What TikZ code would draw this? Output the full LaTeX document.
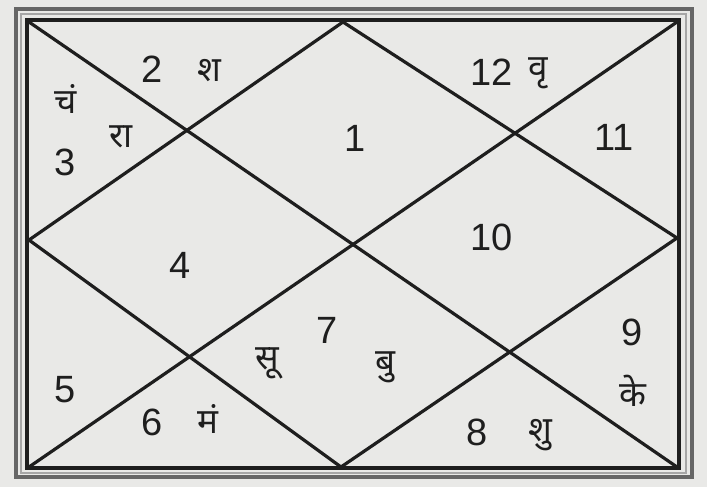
\documentclass[tikz,border=0pt]{standalone}
\usepackage{fontspec}
\setmainfont{Liberation Sans}
\newfontfamily\devfont[Script=Devanagari]{Noto Sans}
\usepackage{xcolor}
\usetikzlibrary{positioning}

\definecolor{paper}{HTML}{E9E9E7}
\definecolor{ink}{HTML}{1E1E1E}

\begin{document}
\begin{tikzpicture}[x=1pt, y=-1pt,
  num/.style={inner sep=0pt, text=ink, font=\fontsize{38}{38}\selectfont},
  grah/.style={inner sep=0pt, text=ink, font=\devfont\fontsize{35}{35}\selectfont},
  rule/.style={draw=ink, line width=3.2pt, line cap=round}]
\useasboundingbox[fill=paper] (0,0) rectangle (707,487);
% frame
\draw[black!60, line width=3.5pt] (16,9) rectangle (692,477);
\draw[black!35, line width=2pt] (21,14) rectangle (686,473);
\draw[ink, line width=3.5pt] (27,20) rectangle (679,468);
% chart corners and midpoints
\coordinate (tl) at (29,22);
\coordinate (tr) at (677,22);
\coordinate (bl) at (29,467);
\coordinate (br) at (677,467);
\coordinate (tm) at (343,22);
\coordinate (bm) at (341,467);
\coordinate (lm) at (29,240);
\coordinate (rm) at (677,238);
\draw[rule] (tl) -- (br);
\draw[rule] (tr) -- (bl);
\draw[rule] (tm) -- (rm) -- (bm) -- (lm) -- cycle;
% houses
\node[num] (h1) at (355,138) {1};
\node[num] (h2) at (152,69) {2};
\node[num] (h3) at (65,162) {3};
\node[num] (h4) at (180,265) {4};
\node[num] (h5) at (65,390) {5};
\node[num] (h6) at (152,422) {6};
\node[num] (h7) at (327,330) {7};
\node[num] (h8) at (477,432) {8};
\node[num] (h9) at (632,332) {9};
\node[num] (h10) at (492,237) {10};
\node[num] (h11) at (614,137) {11};
\node[num] (h12) at (492,72) {12};
% planets
\node[grah] (sha) at (209,71) {श};
\node[grah] (chan) at (66,99) {चं};
\node[grah] (rahu) at (121,137) {रा};
\node[grah] (guru) at (538,73) {वृ};
\node[grah] (surya) at (267,363) {सू};
\node[grah] (budh) at (385,367) {बु};
\node[grah] (mang) at (208,419) {मं};
\node[grah] (ketu) at (633,391) {के};
\node[grah] (shukr) at (540,435) {शु};
\end{tikzpicture}
\end{document}
